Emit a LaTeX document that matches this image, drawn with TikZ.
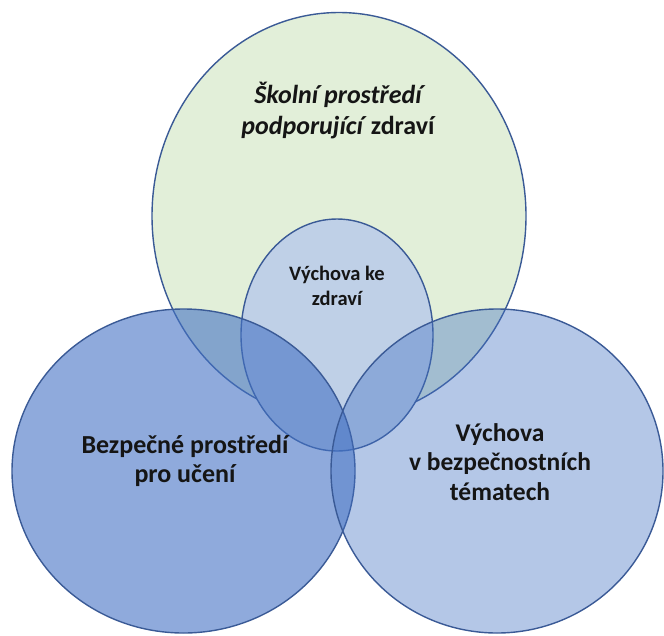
\documentclass[tikz,border=0pt]{standalone}
\usepackage{fontspec}
\setmainfont{Carlito}
\definecolor{edge}{HTML}{3A5A96}
\definecolor{greenfill}{HTML}{E2EFD9}
\definecolor{smallfill}{HTML}{BFD0E7}
\definecolor{officeblue}{HTML}{4472C4}
\definecolor{txt}{HTML}{151515}
\tikzset{
  circ/.style={draw=edge, line width=1.4pt},
  lbl/.style={align=center, text=txt, inner sep=0pt},
}
\begin{document}
\begin{tikzpicture}[x=1pt,y=-1pt]
\useasboundingbox (0,0) rectangle (664,635);
% top green ellipse
\draw[circ, fill=greenfill] (339,216) ellipse [x radius=187, y radius=203.5];
% small central ellipse
\draw[circ, fill=smallfill] (337,335) ellipse [x radius=96, y radius=116];
% left circle
\draw[circ, fill=officeblue, fill opacity=0.6] (183.5,471) ellipse [x radius=171.5, y radius=162];
% right circle
\draw[circ, fill=officeblue, fill opacity=0.4] (497,471) ellipse [x radius=166, y radius=162];
% labels
\node[lbl, font=\fontsize{26}{31}\selectfont\bfseries] (top) at (338,111)
  {{\itshape Školní prostředí}\\{\itshape podporující}\hspace{2pt} zdraví};
\node[lbl, font=\fontsize{20.5}{25}\selectfont\bfseries] (mid) at (337,286)
  {Výchova ke\\zdraví};
\node[lbl, font=\fontsize{26}{29}\selectfont\bfseries] (left) at (185,461)
  {Bezpečné prostředí\\pro učení};
\node[lbl, font=\fontsize{25.5}{29.5}\selectfont\bfseries] (right) at (500,462)
  {Výchova\\v bezpečnostních\\tématech};
\end{tikzpicture}
\end{document}
